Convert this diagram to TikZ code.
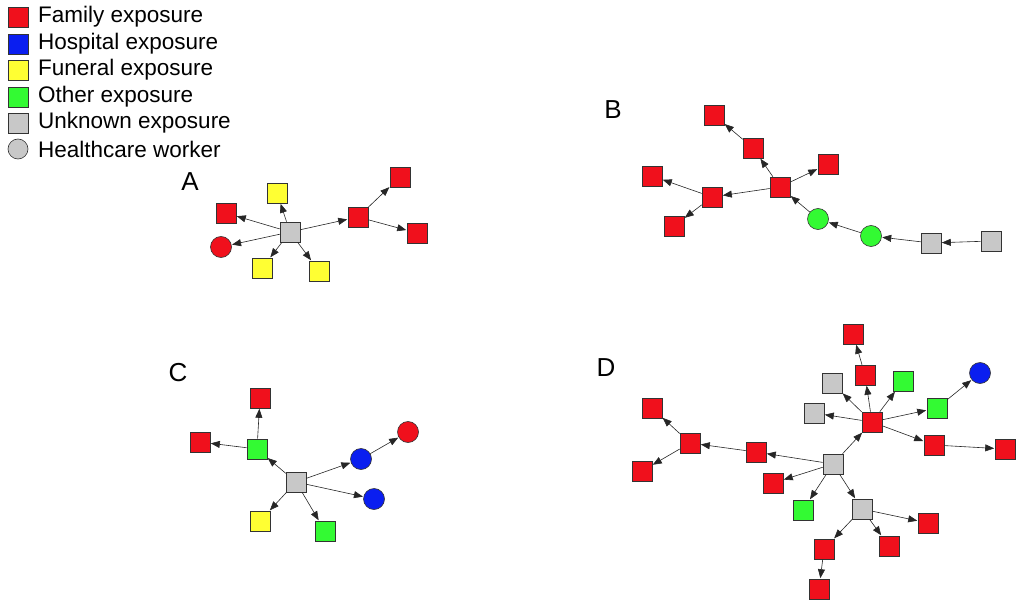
\documentclass[tikz,border=0pt]{standalone}
\usepackage{fontspec}
\setmainfont{Liberation Sans}
\usetikzlibrary{arrows.meta}
\definecolor{cR}{RGB}{240,16,28}
\definecolor{cB}{RGB}{10,30,240}
\definecolor{cY}{RGB}{255,255,51}
\definecolor{cG}{RGB}{51,250,51}
\definecolor{cX}{RGB}{200,200,200}
\tikzset{
 sq/.style={draw=black!80,line width=0.6pt,minimum size=20pt,inner sep=0pt,fill=#1},
 ci/.style={circle,draw=black!80,line width=0.6pt,minimum size=21pt,inner sep=0pt,fill=#1},
 ed/.style={-{Triangle[length=9pt,width=7pt]},line width=0.6pt,black!85,shorten >=0.5pt},
 lg/.style={anchor=west,inner sep=0pt,font=\fontsize{22.5}{24}\selectfont},
 pl/.style={font=\fontsize{26}{28}\selectfont}
}
\begin{document}
\begin{tikzpicture}[x=1pt,y=-1pt]
\useasboundingbox (0,0) rectangle (1024,612);
% legend
\node[sq=cR] (l1) at (18,17) {};
\node[sq=cB] (l2) at (18,44) {};
\node[sq=cY] (l3) at (18,70) {};
\node[sq=cG] (l4) at (18,97) {};
\node[sq=cX] (l5) at (18,123) {};
\node[ci=cX,minimum size=20pt] (l6) at (18,149) {};
\node[lg] (t1) at (38,17) {Family exposure};
\node[lg] (t2) at (38,44) {Hospital exposure};
\node[lg] (t3) at (38,70) {Funeral exposure};
\node[lg] (t4) at (38,97) {Other exposure};
\node[lg] (t5) at (38,123) {Unknown exposure};
\node[lg] (t6) at (38,149) {Healthcare worker};
% A
\node[pl] (A) at (190,182) {A};
\node[sq=cX] (a0) at (290,232) {};
\node[sq=cY] (a1) at (277,193) {};
\node[sq=cR] (a2) at (226,213) {};
\node[ci=cR] (a3) at (221,247) {};
\node[sq=cR] (a4) at (358,217) {};
\node[sq=cR] (a5) at (400,177) {};
\node[sq=cR] (a6) at (417,233) {};
\node[sq=cY] (a7) at (262,268) {};
\node[sq=cY] (a8) at (319,271) {};
\foreach \t in {a1,a2,a3,a4,a7,a8} \draw[ed] (a0) -- (\t);
\draw[ed] (a4) -- (a5); \draw[ed] (a4) -- (a6);
% B
\node[pl] (B) at (613,110) {B};
\node[sq=cR] (b1) at (714,115) {};
\node[sq=cR] (b2) at (753,148) {};
\node[sq=cR] (b3) at (828,164) {};
\node[sq=cR] (b4) at (652,176) {};
\node[sq=cR] (b0) at (780,187) {};
\node[sq=cR] (b5) at (712,197) {};
\node[sq=cR] (b6) at (674,226) {};
\node[ci=cG] (b7) at (818,219) {};
\node[ci=cG] (b8) at (871,236) {};
\node[sq=cX] (b9) at (931,243) {};
\node[sq=cX] (b10) at (991,241) {};
\draw[ed] (b10) -- (b9); \draw[ed] (b9) -- (b8); \draw[ed] (b8) -- (b7); \draw[ed] (b7) -- (b0);
\draw[ed] (b0) -- (b2); \draw[ed] (b2) -- (b1); \draw[ed] (b0) -- (b3); \draw[ed] (b0) -- (b5);
\draw[ed] (b5) -- (b4); \draw[ed] (b5) -- (b6);
% C
\node[pl] (C) at (178,373) {C};
\node[sq=cX] (c0) at (296,482) {};
\node[sq=cG] (c1) at (257,449) {};
\node[sq=cR] (c2) at (260,398) {};
\node[sq=cR] (c3) at (200,442) {};
\node[ci=cB] (c4) at (361,459) {};
\node[ci=cR] (c5) at (408,432) {};
\node[ci=cB] (c6) at (374,499) {};
\node[sq=cY] (c7) at (260,521) {};
\node[sq=cG] (c8) at (325,531) {};
\draw[ed] (c0) -- (c1); \draw[ed] (c1) -- (c2); \draw[ed] (c1) -- (c3);
\draw[ed] (c0) -- (c4); \draw[ed] (c4) -- (c5);
\foreach \t in {c6,c7,c8} \draw[ed] (c0) -- (\t);
% D
\node[pl] (D) at (606,368) {D};
\node[sq=cX] (d0) at (833,464) {};
\node[sq=cR] (dh) at (872,422) {};
\node[sq=cR] (d1) at (853,334) {};
\node[sq=cR] (d2) at (865,375) {};
\node[sq=cX] (d3) at (832,383) {};
\node[sq=cG] (d4) at (903,381) {};
\node[ci=cB] (d5) at (980,373) {};
\node[sq=cX] (d6) at (814,413) {};
\node[sq=cG] (d7) at (937,408) {};
\node[sq=cR] (d8) at (652,408) {};
\node[sq=cR] (d9) at (690,443) {};
\node[sq=cR] (d10) at (756,452) {};
\node[sq=cR] (d11) at (934,445) {};
\node[sq=cR] (d12) at (1005,449) {};
\node[sq=cR] (d13) at (642,471) {};
\node[sq=cR] (d14) at (773,483) {};
\node[sq=cG] (d15) at (803,510) {};
\node[sq=cX] (d16) at (862,509) {};
\node[sq=cR] (d17) at (928,523) {};
\node[sq=cR] (d18) at (889,546) {};
\node[sq=cR] (d19) at (824,549) {};
\node[sq=cR] (d20) at (819,589) {};
\foreach \t in {dh,d10,d14,d15,d16} \draw[ed] (d0) -- (\t);
\draw[ed] (d10) -- (d9); \draw[ed] (d9) -- (d8); \draw[ed] (d9) -- (d13);
\foreach \t in {d2,d3,d4,d6,d7,d11} \draw[ed] (dh) -- (\t);
\draw[ed] (d2) -- (d1); \draw[ed] (d7) -- (d5); \draw[ed] (d11) -- (d12);
\foreach \t in {d17,d18,d19} \draw[ed] (d16) -- (\t);
\draw[ed] (d19) -- (d20);
\end{tikzpicture}
\end{document}
